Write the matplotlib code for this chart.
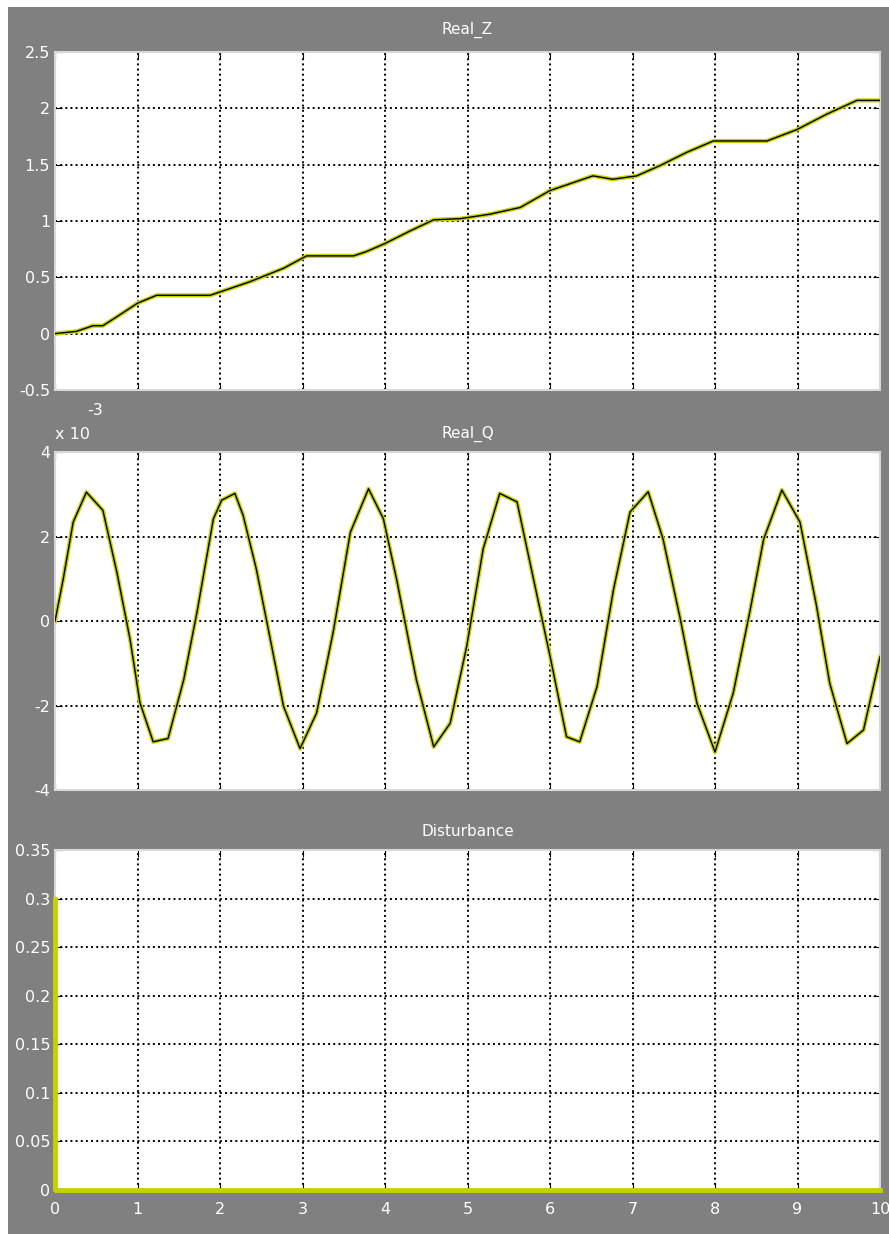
import matplotlib
matplotlib.use("Agg")
import matplotlib.pyplot as plt
from matplotlib.patches import Rectangle

# Real_Z samples (time, value)
z_t = [0, 0.26, 0.46, 0.58, 0.75, 1.0, 1.23, 1.88, 2.0, 2.36, 2.77, 3.05, 3.62, 3.78,
       4.0, 4.30, 4.59, 4.91, 5.27, 5.64, 6.0, 6.52, 6.76, 7.05, 7.33, 7.66, 7.98,
       8.63, 8.99, 9.36, 9.72, 10.0]
z_v = [0, 0.02, 0.07, 0.07, 0.15, 0.27, 0.34, 0.34, 0.37, 0.46, 0.58, 0.69, 0.69, 0.73,
       0.80, 0.91, 1.01, 1.02, 1.06, 1.12, 1.27, 1.40, 1.37, 1.40, 1.49, 1.61, 1.71,
       1.71, 1.81, 1.95, 2.07, 2.07]

# Real_Q samples, values in units of 1e-3
q_t = [0, 0.10, 0.22, 0.38, 0.58, 0.75, 0.91, 1.03, 1.19, 1.37, 1.56, 1.72, 1.92, 2.02,
       2.18, 2.28, 2.44, 2.61, 2.77, 2.97, 3.17, 3.37, 3.58, 3.80, 3.98, 4.14, 4.38,
       4.59, 4.79, 4.99, 5.19, 5.39, 5.60, 5.80, 6.0, 6.20, 6.36, 6.57, 6.77, 6.97,
       7.19, 7.37, 7.58, 7.78, 8.0, 8.22, 8.42, 8.59, 8.81, 9.03, 9.23, 9.39, 9.60,
       9.80, 10.0]
q_v = [0, 1.0, 2.34, 3.05, 2.62, 1.15, -0.44, -1.94, -2.86, -2.78, -1.39, 0.2, 2.42, 2.86,
       3.02, 2.5, 1.23, -0.44, -2.02, -3.02, -2.18, -0.28, 2.1, 3.13, 2.42, 0.99, -1.39,
       -2.98, -2.42, -0.6, 1.71, 3.02, 2.82, 0.99, -0.83, -2.74, -2.86, -1.55, 0.75, 2.58,
       3.06, 1.94, 0.04, -1.94, -3.1, -1.71, 0.2, 1.94, 3.10, 2.34, 0.36, -1.47, -2.9,
       -2.58, -0.85]

# Disturbance
d_t = [0, 0, 10]
d_v = [0.3, 0, 0]

titles = ["Real_Z", "Real_Q", "Disturbance"]
z_ticks = [-0.5, 0, 0.5, 1, 1.5, 2, 2.5]
q_ticks = [-4, -2, 0, 2, 4]
d_ticks = [0, 0.05, 0.1, 0.15, 0.2, 0.25, 0.3, 0.35]
x_ticks = list(range(11))

yellow = "#c6d200"
gray = "#808080"
plt.rcParams['font.family'] = ["DejaVu Sans"]

fig = plt.figure(figsize=(8.89, 12.34), dpi=100, facecolor="white")
fig.patches.append(Rectangle((8 / 889, 0), 1, 1 - 7 / 1234, transform=fig.transFigure,
                             facecolor=gray, edgecolor="none", zorder=-10))

pos = [[0.0619, 0.6840, 0.9280, 0.2739],
       [0.0619, 0.3598, 0.9280, 0.2739],
       [0.0619, 0.0357, 0.9280, 0.2755]]

data = [(z_t, z_v, z_ticks, (-0.5, 2.5)),
        (q_t, q_v, q_ticks, (-4, 4)),
        (d_t, d_v, d_ticks, (0, 0.35))]
pads = [13, 10, 10]

for i, (p, (t, v, yt, yl)) in enumerate(zip(pos, data)):
    ax = fig.add_axes(p)
    ax.set_facecolor("white")
    if i < 2:
        ax.plot(t, v, color=yellow, lw=3, zorder=3)
        ax.plot(t, v, color="black", lw=1, zorder=4)
    else:
        ax.plot(t, v, color=yellow, lw=3.5, zorder=3, clip_on=False)
    ax.set_xlim(0, 10)
    ax.set_ylim(*yl)
    ax.set_xticks(x_ticks)
    ax.set_yticks(yt)
    ax.set_yticklabels([f"{y:g}" for y in yt])
    if i < 2:
        ax.set_xticklabels([])
    ax.grid(True, color="black", linestyle=":", linewidth=1.4)
    ax.tick_params(direction="in", top=True, right=True, length=5, color="black",
                   labelcolor="white", labelsize=11.5)
    ax.tick_params(axis="x", pad=9)
    for s in ax.spines.values():
        s.set_color("#d8d8d8")
        s.set_linewidth(1.5)
    ax.set_title(titles[i], color="white", fontsize=11, pad=pads[i])

fig.text(0.0619, 0.648, "x 10", color="white", fontsize=11.5, ha="left", va="center")
fig.text(0.098, 0.667, "-3", color="white", fontsize=11.5, ha="left", va="center")

fig.savefig("out.png", dpi=100, facecolor=fig.get_facecolor())
